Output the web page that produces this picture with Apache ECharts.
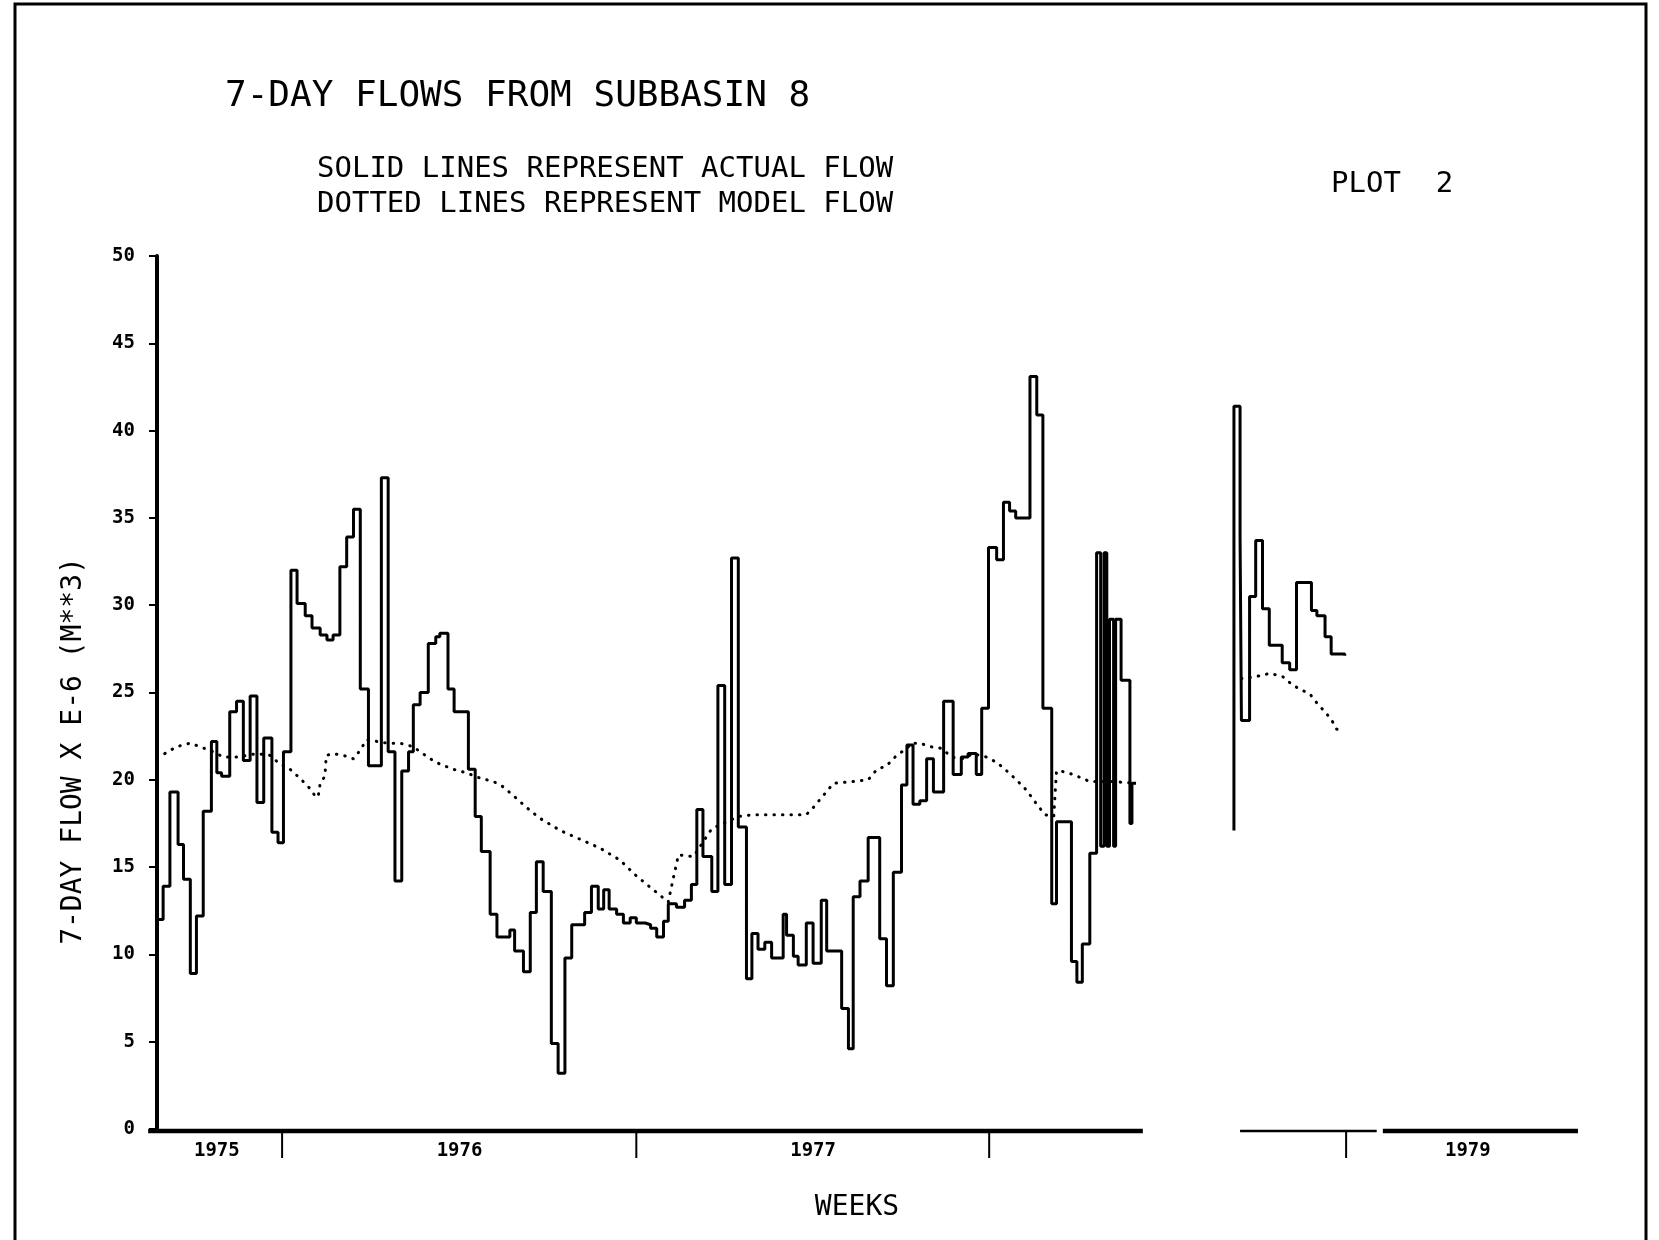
<!DOCTYPE html>
<html>
<head>
<meta charset="utf-8">
<title>7-DAY FLOWS FROM SUBBASIN 8</title>
<script src="https://cdn.jsdelivr.net/npm/echarts@6/dist/echarts.min.js"></script>
<style>
html, body { margin: 0; padding: 0; background: #fff; }
#container { width: 1659px; height: 1240px; }
</style>
</head>
<body>
<div id="container"></div>
<script>
// x is counted in weeks from the first plotted week (late summer 1975)
// actual flow, step values: week where each step starts and its value
var actualWeeks = [0.0, 0.9, 1.9, 3.1, 3.9, 4.9, 5.8, 6.8, 8.0, 8.8,
	9.5, 10.7, 11.7, 12.7, 13.7, 14.7, 15.7, 16.9, 17.8, 18.6,
	19.7, 20.6, 21.8, 22.8, 24.0, 25.0, 25.9, 26.9, 27.9, 28.9,
	29.9, 31.1, 33.0, 34.0, 35.0, 36.0, 37.0, 37.7, 38.7, 39.9,
	41.0, 41.6, 42.8, 43.7, 45.8, 46.8, 47.7, 49.0, 50.0, 51.9,
	52.6, 53.9, 54.9, 55.8, 56.8, 58.0, 59.0, 60.0, 61.0, 62.9,
	63.9, 64.9, 65.7, 66.5, 67.6, 68.6, 69.6, 70.5, 71.8, 72.6,
	73.5, 74.5, 75.2, 76.4, 77.6, 78.6, 79.4, 80.3, 81.6, 82.5,
	83.5, 84.5, 85.5, 86.7, 87.5, 88.4, 89.4, 90.4, 92.1, 92.6,
	93.6, 94.3, 95.5, 96.5, 97.7, 98.5, 100.7, 101.7, 102.4, 103.4,
	104.6, 106.3, 107.3, 108.3, 109.5, 110.3, 111.2, 112.2, 113.2, 114.2,
	115.7, 117.1, 118.3, 119.3, 120.5, 121.3, 122.3, 123.5, 124.5, 125.4,
	126.3, 128.4, 129.4, 130.3, 131.6, 132.3, 134.5, 135.3, 136.1, 137.2,
	138.2, 138.8, 139.3, 139.7, 140.1, 140.7, 141.0, 141.8, 143.1, 143.4,
	144.0];
var actualFlow = [12.0, 13.9, 19.3, 16.3, 14.3, 8.9, 12.2, 18.2, 22.2, 20.4,
	20.2, 23.9, 24.5, 21.1, 24.8, 18.7, 22.4, 17.0, 16.4, 21.6,
	32.0, 30.1, 29.4, 28.7, 28.3, 28.0, 28.3, 32.2, 33.9, 35.5,
	25.2, 20.8, 37.3, 21.6, 14.2, 20.5, 21.6, 24.3, 25.0, 27.8,
	28.2, 28.4, 25.2, 23.9, 20.6, 17.9, 15.9, 12.3, 11.0, 11.4,
	10.2, 9.0, 12.4, 15.3, 13.6, 4.9, 3.2, 9.8, 11.7, 12.4,
	13.9, 12.6, 13.7, 12.6, 12.3, 11.8, 12.1, 11.8, 11.7, 11.5,
	11.0, 11.9, 12.9, 12.7, 13.1, 14.0, 18.3, 15.6, 13.6, 25.4,
	14.0, 32.7, 17.3, 8.6, 11.2, 10.3, 10.7, 9.8, 12.3, 11.1,
	9.9, 9.4, 11.8, 9.5, 13.1, 10.2, 6.9, 4.6, 13.3, 14.2,
	16.7, 10.9, 8.2, 14.7, 19.7, 22.0, 18.6, 18.8, 21.2, 19.3,
	24.5, 20.3, 21.3, 21.5, 20.3, 24.1, 33.3, 32.6, 35.9, 35.4,
	35.0, 43.1, 40.9, 24.1, 12.9, 17.6, 9.6, 8.4, 10.6, 15.8,
	33.0, 16.2, 33.0, 16.2, 29.2, 16.2, 29.2, 25.7, 17.5, 19.8,
	19.8];

// second piece, 1978-79
var actualWeeks2 = [158.4, 158.4, 159.3, 159.5, 160.7, 161.6, 162.6, 163.6, 165.5, 166.6, 167.6, 169.8, 170.6, 171.8, 172.7, 174.7];
var actualFlow2 = [17.1, 41.4, 34.0, 23.4, 30.5, 33.7, 29.8, 27.7, 26.7, 26.3, 31.3, 29.7, 29.4, 28.2, 27.2, 27.1];

// model flow (dotted)
var modelWeeks = [0.0, 0.7, 2.9, 4.9, 6.3, 8.3, 9.8, 11.7, 13.2, 14.7,
	16.6, 18.1, 19.3, 21.0, 22.5, 23.2, 23.7, 24.0, 24.7, 24.9,
	25.9, 27.4, 28.9, 29.9, 30.8, 32.3, 33.8, 35.7, 37.7, 38.7,
	40.6, 41.6, 43.6, 45.5, 47.5, 49.5, 50.9, 52.4, 54.4, 56.3,
	59.3, 62.2, 65.1, 68.1, 70.5, 73.0, 75.2, 75.9, 76.7, 78.9,
	81.6, 85.5, 87.7, 90.6, 95.5, 96.5, 98.0, 99.5, 102.4, 104.6,
	105.9, 107.3, 108.8, 110.3, 111.0, 112.2, 113.7, 115.4, 116.9, 118.6,
	120.0, 122.0, 123.5, 125.0, 126.4, 127.9, 129.4, 130.6, 131.9, 132.3,
	133.0, 134.8, 137.2, 140.6, 144.0];
var modelFlow = [21.3, 21.4, 21.9, 22.1, 21.9, 21.6, 21.3, 21.3, 21.4, 21.5,
	21.4, 20.9, 20.7, 20.1, 19.5, 19.1, 19.0, 19.8, 20.2, 21.4,
	21.5, 21.4, 21.2, 21.7, 22.3, 22.2, 22.1, 22.1, 21.9, 21.6,
	21.1, 20.9, 20.6, 20.4, 20.1, 19.9, 19.6, 19.1, 18.4, 17.8,
	17.1, 16.6, 16.1, 15.4, 14.5, 13.7, 13.0, 14.3, 15.7, 15.6,
	17.2, 17.9, 18.0, 18.0, 18.0, 18.4, 19.1, 19.8, 19.9, 20.0,
	20.6, 20.8, 21.4, 21.8, 22.1, 22.1, 21.9, 21.8, 21.3, 21.2,
	21.5, 21.3, 21.0, 20.5, 20.0, 19.4, 18.6, 18.0, 17.9, 20.5,
	20.5, 20.3, 19.9, 19.9, 19.8];
var modelWeeks2 = [159.5, 161.5, 163.7, 165.6, 167.1, 168.6, 169.6, 170.8, 171.8, 172.8, 173.5, 174.7];
var modelFlow2 = [25.8, 25.9, 26.1, 25.9, 25.4, 25.1, 24.9, 24.3, 23.9, 23.4, 22.9, 22.9];

// time axis pieces, year marks and labels (weeks)
var axisSpans = [[-1.3, 145.0], [159.3, 179.4], [180.3, 209.0]];
var yearTickWeeks = [18.4, 70.5, 122.4, 174.9];
var yearLabelWeeks = [8.8, 44.5, 96.5, 192.8];
var yearLabels = ['1975', '1976', '1977', '1979'];

var FONT = '"DejaVu Sans Mono", "Liberation Mono", monospace';

function pairs(xs, ys) {
	return xs.map(function(x, i) { return [x, ys[i]]; });
}

var myChart = echarts.init(document.getElementById('container'));

var option = {
	animation: false,
	backgroundColor: '#fff',
	grid: { left: 157, right: 79, top: 256, bottom: 111, containLabel: false, outerBoundsMode: 'none' },
	xAxis: { type: 'value', min: 0, max: 209.3, show: false },
	yAxis: {
		type: 'value', min: 0, max: 50, interval: 5,
		axisLine: { show: true, lineStyle: { color: '#000', width: 4 } },
		axisTick: { show: true, length: 8, lineStyle: { color: '#000', width: 2 } },
		axisLabel: { color: '#000', fontFamily: FONT, fontWeight: 'bold', fontSize: 19, margin: 22 },
		splitLine: { show: false }
	},
	graphic: [
		{ type: 'polyline', shape: { points: [[15, 1240], [15, 4], [1646, 4], [1646, 1240]] },
			style: { stroke: '#000', lineWidth: 3, fill: null } },
		{ type: 'text', x: 225, y: 97, style: { text: '7-DAY FLOWS FROM SUBBASIN 8', font: '36px ' + FONT, fill: '#000', verticalAlign: 'middle' } },
		{ type: 'text', x: 317, y: 169, style: { text: 'SOLID LINES REPRESENT ACTUAL FLOW', font: '29px ' + FONT, fill: '#000', verticalAlign: 'middle' } },
		{ type: 'text', x: 317, y: 204, style: { text: 'DOTTED LINES REPRESENT MODEL FLOW', font: '29px ' + FONT, fill: '#000', verticalAlign: 'middle' } },
		{ type: 'text', x: 1331, y: 184, style: { text: 'PLOT  2', font: '29px ' + FONT, fill: '#000', verticalAlign: 'middle' } },
		{ type: 'text', x: 857, y: 1208, style: { text: 'WEEKS', font: '28px ' + FONT, fill: '#000', align: 'center', verticalAlign: 'middle' } },
		{ type: 'text', x: 74, y: 751, rotation: Math.PI / 2,
			style: { text: '7-DAY FLOW X E-6 (M**3)', font: '28px ' + FONT, fill: '#000', align: 'center', verticalAlign: 'middle' } }
	],
	series: [
		{
			name: 'actual', type: 'line', step: 'end', symbol: 'none',
			data: pairs(actualWeeks, actualFlow),
			lineStyle: { color: '#000', width: 3 }
		},
		{
			name: 'actual 1978-79', type: 'line', step: 'end', symbol: 'none',
			data: pairs(actualWeeks2, actualFlow2),
			lineStyle: { color: '#000', width: 3 }
		},
		{
			name: 'model', type: 'line', symbol: 'none',
			data: pairs(modelWeeks, modelFlow),
			lineStyle: { color: '#000', width: 3, type: [0.5, 8], cap: 'round' }
		},
		{
			name: 'model 1978-79', type: 'line', symbol: 'none',
			data: pairs(modelWeeks2, modelFlow2),
			lineStyle: { color: '#000', width: 3, type: [0.5, 8], cap: 'round' }
		},
		{
			// time axis drawn in pieces
			type: 'custom', clip: false, silent: true,
			data: axisSpans,
			encode: { x: [0, 1] },
			renderItem: function(params, api) {
				var a = api.coord([api.value(0), 0]);
				var b = api.coord([api.value(1), 0]);
				return {
					type: 'line',
					shape: { x1: a[0], y1: a[1] + 2, x2: b[0], y2: b[1] + 2 },
					style: { stroke: '#000', lineWidth: params.dataIndex === 1 ? 2.5 : 4.5 }
				};
			}
		},
		{
			type: 'custom', clip: false, silent: true,
			data: yearTickWeeks.map(function(w) { return [w]; }),
			encode: { x: 0 },
			renderItem: function(params, api) {
				var p = api.coord([api.value(0), 0]);
				return {
					type: 'line',
					shape: { x1: p[0], y1: p[1] + 2, x2: p[0], y2: p[1] + 29 },
					style: { stroke: '#000', lineWidth: 2 }
				};
			}
		},
		{
			type: 'custom', clip: false, silent: true,
			data: yearLabelWeeks.map(function(w) { return [w]; }),
			encode: { x: 0 },
			renderItem: function(params, api) {
				var p = api.coord([api.value(0), 0]);
				return {
					type: 'text',
					x: p[0], y: p[1] + 22,
					style: { text: yearLabels[params.dataIndex], font: 'bold 19px ' + FONT, fill: '#000', align: 'center', verticalAlign: 'middle' }
				};
			}
		}
	]
};

myChart.setOption(option);
</script>
</body>
</html>
